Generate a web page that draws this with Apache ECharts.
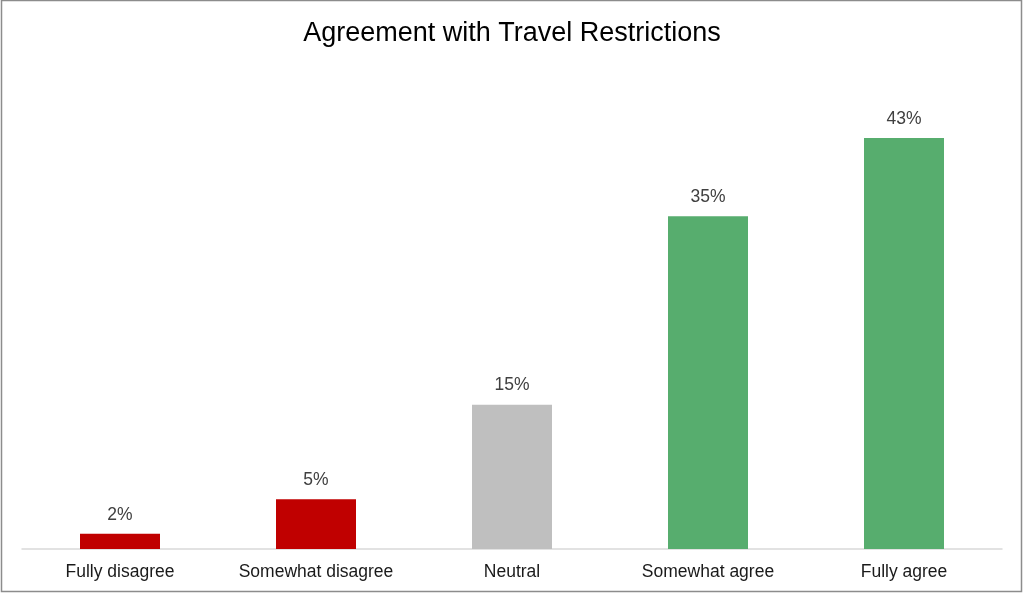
<!DOCTYPE html>
<html><head><meta charset="utf-8">
<script src="https://cdn.jsdelivr.net/npm/echarts@6/dist/echarts.min.js"></script>
<style>html,body{margin:0;padding:0;background:#fff}#c{width:1024px;height:594px}</style>
</head><body><div id="c"></div>
<script>
const categories = ["Fully disagree","Somewhat disagree","Neutral","Somewhat agree","Fully agree"];
const values = [1.6, 5.2, 15.1, 34.8, 43];
const colors = ["#c00000","#c00000","#bfbfbf","#57ad6e","#57ad6e"];
const chart = echarts.init(document.getElementById('c'));
chart.setOption({
  animation:false,
  graphic:[{type:'rect',shape:{x:1.5,y:0.5,width:1020,height:591},style:{fill:'none',stroke:'#8c8c8c',lineWidth:1.5},silent:true}],
  title:{text:'Agreement with Travel Restrictions',left:'center',top:15,textStyle:{fontFamily:'Liberation Sans, Arial',fontSize:27,fontWeight:'normal',color:'#000'}},
  grid:{left:22,right:22,top:71,bottom:45},
  xAxis:{type:'category',data:categories,axisTick:{show:false},
    axisLine:{lineStyle:{color:'#d9d9d9',width:1.5}},
    axisLabel:{interval:0,hideOverlap:false,color:'#1a1a1a',fontSize:17.5,fontFamily:'Liberation Sans, Arial',margin:14}},
  yAxis:{type:'value',min:0,max:50,show:false,splitLine:{show:false}},
  series:[{type:'bar',barWidth:80,
    data:values.map((v,i)=>({value:v,itemStyle:{color:colors[i]}})),
    label:{show:true,position:'top',distance:10,color:'#404040',fontSize:17.5,fontFamily:'Liberation Sans, Arial',
      formatter:p=>Math.round(p.value)+'%'}}]
});
</script></body></html>
